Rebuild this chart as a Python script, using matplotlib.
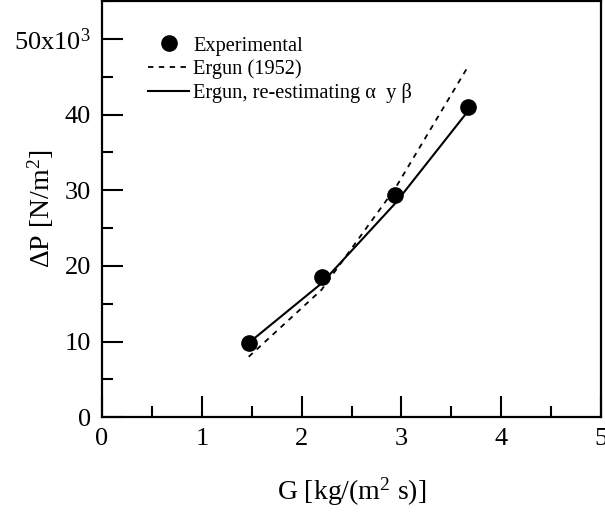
import matplotlib
matplotlib.use("Agg")
import matplotlib.pyplot as plt
from matplotlib.ticker import MultipleLocator, FixedLocator, FixedFormatter

plt.rcParams['font.family'] = ['Liberation Serif', 'DejaVu Serif']
plt.rcParams['mathtext.fontset'] = 'custom'
plt.rcParams['mathtext.rm'] = 'Liberation Serif'
plt.rcParams['mathtext.it'] = 'Liberation Serif:italic'

# mass flux G [kg/(m2 s)] and pressure drop [N/m2]
g_flux = [1.47, 2.20, 2.94, 3.67]
dp_exp = [9830, 18600, 29400, 41050]
dp_ergun = [8000, 16850, 30300, 46400]
dp_refit = [9830, 17700, 28300, 40500]

y_ticks = [0, 10000, 20000, 30000, 40000, 50000]
y_labels = ['0', '10', '20', '30', '40', r'50x10$^{3}$']

fig = plt.figure(figsize=(6.05, 5.13), dpi=100)
ax = fig.add_axes([0.1686, 0.1865, 0.8248, 0.8115])

ax.plot(g_flux, dp_exp, 'o', color='black', markersize=11, label='Experimental')
ax.plot(g_flux, dp_ergun, color='black', lw=1.3, dashes=(3, 3), label='Ergun (1952)')
ax.plot(g_flux, dp_refit, color='black', lw=1.5, label='Ergun, re-estimating α  y β')

ax.set_xlim(0, 5)
ax.set_ylim(0, 55000)
ax.xaxis.set_major_locator(MultipleLocator(1))
ax.xaxis.set_minor_locator(MultipleLocator(0.5))
ax.yaxis.set_major_locator(FixedLocator(y_ticks))
ax.yaxis.set_major_formatter(FixedFormatter(y_labels))
ax.yaxis.set_minor_locator(MultipleLocator(5000))
ax.tick_params(which='both', direction='in', width=1.5, labelsize=19)
ax.tick_params(which='major', length=15, pad=8)
ax.tick_params(which='minor', length=8)
for s in ax.spines.values():
    s.set_linewidth(1.6)

ax.set_xlabel(r'G [kg/(m$^{2}$ s)]', fontsize=20, labelpad=18)
ax.set_ylabel(r'$\Delta$P [N/m$^{2}$]', fontsize=20)
ax.yaxis.set_label_coords(-0.092, 0.5)

ax.legend(loc='upper left', bbox_to_anchor=(0.076, 0.935), frameon=False,
          fontsize=14.7, handlelength=2.0, handletextpad=0.2, labelspacing=0.2,
          borderaxespad=0)

fig.savefig('out.png', dpi=100)
